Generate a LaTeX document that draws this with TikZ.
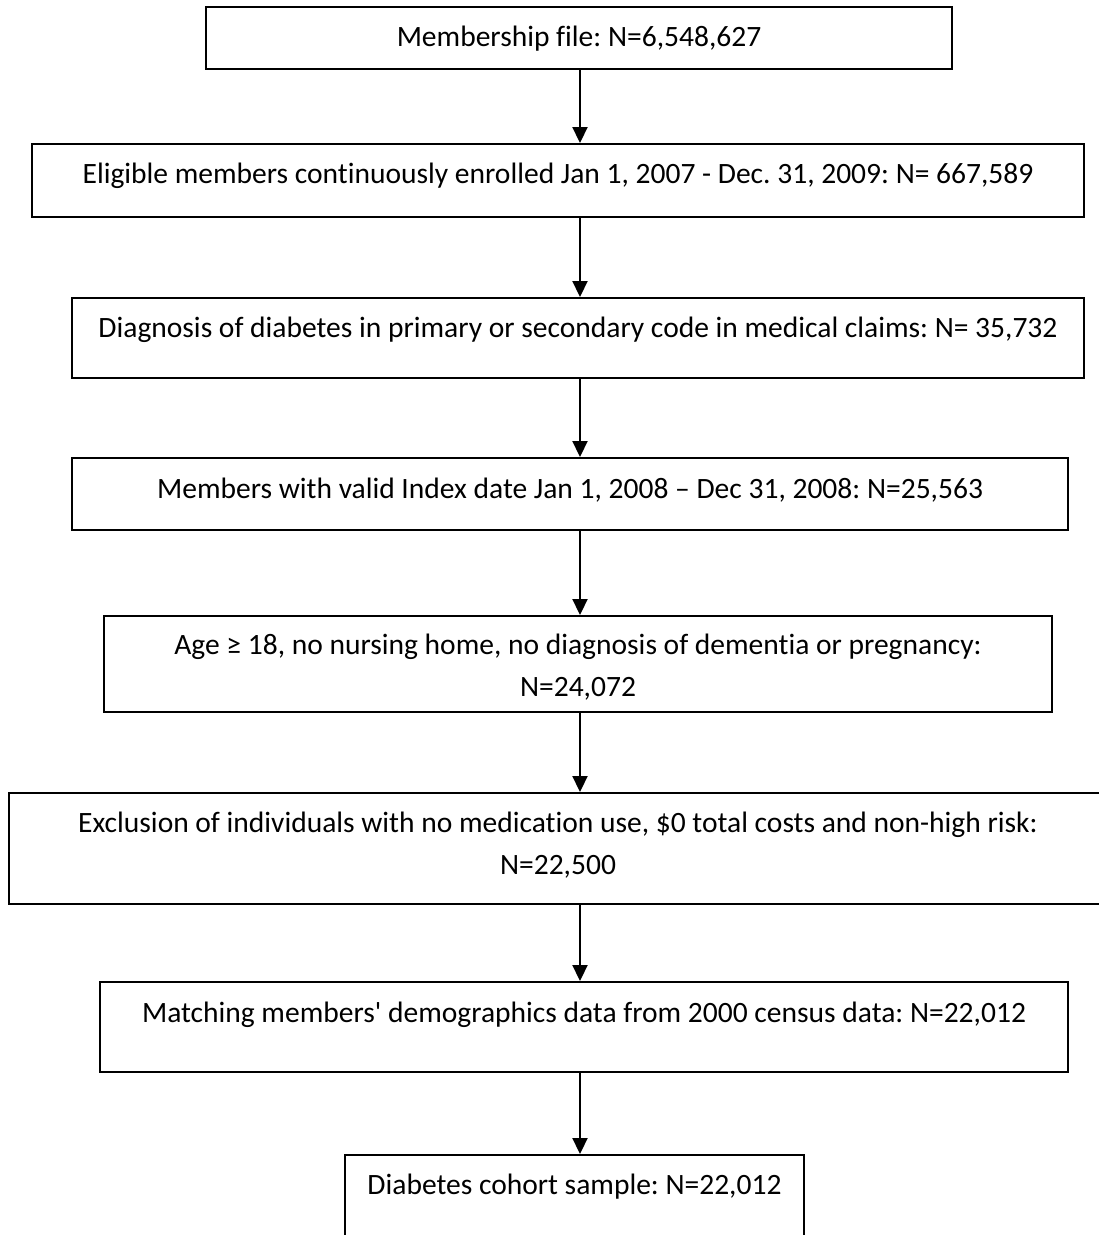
\documentclass[tikz,border=0pt]{standalone}
\usepackage{fontspec}
\setmainfont[Ligatures={NoCommon,TeXOff}]{Carlito}
\usetikzlibrary{arrows.meta,fit}
\frenchspacing
\tikzset{
  stagebox/.style={draw=black,line width=1.1pt,inner sep=0pt},
  stagetext/.style={anchor=base,inner sep=0pt,font=\fontsize{16.8}{20}\selectfont},
  flowarrow/.style={-{Triangle[length=0.32cm,width=0.3cm]},line width=1.1pt}
}

\begin{document}
\begin{tikzpicture}[x=.02cm,y=-.02cm]
\useasboundingbox (0,0) rectangle (1099,1235);
\clip (0,0) rectangle (1099,1235);
\node[stagebox,fit={(206,7) (952,69)}] (b1) {};
\node[stagebox,fit={(32,144) (1084,217)}] (b2) {};
\node[stagebox,fit={(72,298) (1084,378)}] (b3) {};
\node[stagebox,fit={(72,458) (1068,530)}] (b4) {};
\node[stagebox,fit={(104,616) (1052,712)}] (b5) {};
\node[stagebox,fit={(9,793) (1107,904)}] (b6) {};
\node[stagebox,fit={(100,982) (1068,1072)}] (b7) {};
\node[stagebox,fit={(345,1155) (804,1260)}] (b8) {};
\node[stagetext] (t1) at (579,46) {Membership file: N=6,548,627};
\node[stagetext] (t2) at (558,183) {Eligible members continuously enrolled Jan 1, 2007 - Dec. 31, 2009: N= 667,589};
\node[stagetext] (t3) at (578,337) {Diagnosis of diabetes in primary or secondary code in medical claims: N= 35,732};
\node[stagetext] (t4) at (570,498) {Members with valid Index date Jan 1, 2008 – Dec 31, 2008: N=25,563};
\node[stagetext] (t5) at (578,654) {Age ≥ 18, no nursing home, no diagnosis of dementia or pregnancy:};
\node[stagetext] (t5n) at (578,696) {N=24,072};
\node[stagetext] (t6) at (558,832) {Exclusion of individuals with no medication use, \$0 total costs and non-high risk:};
\node[stagetext] (t6n) at (558,874) {N=22,500};
\node[stagetext] (t7) at (584,1022) {Matching members' demographics data from 2000 census data: N=22,012};
\node[stagetext] (t8) at (574.5,1194) {Diabetes cohort sample: N=22,012};
\coordinate (axis) at (580,0);
\foreach \a/\b in {b1/b2,b2/b3,b3/b4,b4/b5,b5/b6,b6/b7,b7/b8}
  \draw[flowarrow] (axis |- \a.south) -- (axis |- \b.north);
\end{tikzpicture}
\end{document}
